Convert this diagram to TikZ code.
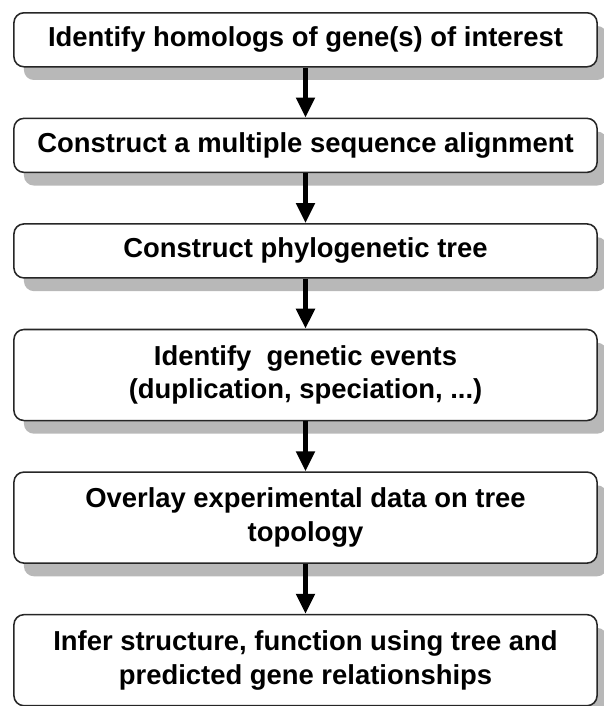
\documentclass[tikz,border=0pt]{standalone}
\usepackage{fontspec}
\setmainfont{Liberation Sans}
\usetikzlibrary{positioning,shadows,arrows.meta}

\begin{document}
\begin{tikzpicture}[x=0.025cm,y=0.025cm,
        stepbox/.style={draw=black!85, line width=1.1pt, rounded corners=0.25cm, fill=white,
            minimum width=14.575cm, align=center, font=\fontsize{19.5}{24}\selectfont\bfseries,
            drop shadow={shadow xshift=0.25cm, shadow yshift=-0.33cm, fill=black!28, opacity=1}},
        onebox/.style={stepbox, minimum height=1.35cm},
        twobox/.style={stepbox, minimum height=2.275cm},
        flow/.style={line width=3.5pt, -{Triangle[width=0.45cm,length=0.5cm]}},
        node distance=1.25cm]
        \useasboundingbox (0,0) rectangle (604,-706);
        \coordinate (top) at (305.5,-12);
        \node[onebox, anchor=north] (homologs) at (top) {Identify homologs of gene(s) of interest};
        \node[onebox, below=of homologs] (msa) {Construct a multiple sequence alignment};
        \node[onebox, below=of msa] (tree) {Construct phylogenetic tree};
        \node[twobox, below=of tree] (events) {Identify~ genetic events\\(duplication, speciation, ...)};
        \node[twobox, below=of events] (overlay) {Overlay experimental data on tree\\topology};
        \node[twobox, below=of overlay] (infer) {Infer structure, function using tree and\\predicted gene relationships};
        \draw[flow] (homologs) -- (msa);
        \draw[flow] (msa) -- (tree);
        \draw[flow] (tree) -- (events);
        \draw[flow] (events) -- (overlay);
        \draw[flow] (overlay) -- (infer);
    \end{tikzpicture}
\end{document}
